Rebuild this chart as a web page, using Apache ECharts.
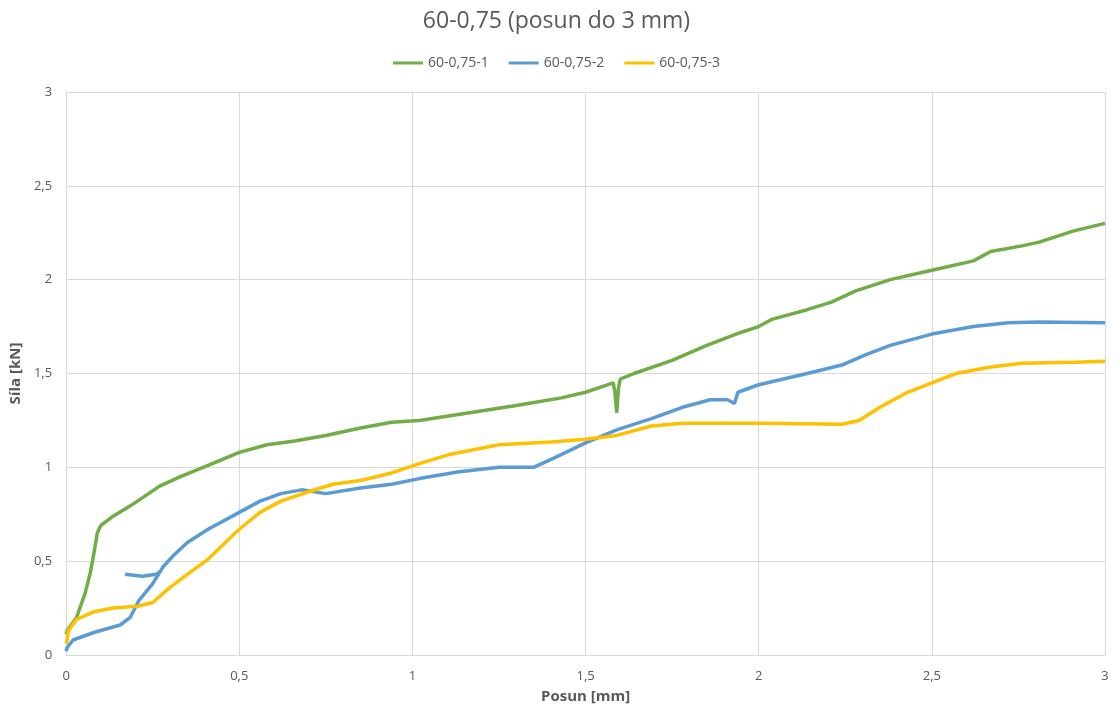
<!DOCTYPE html>
<html>
<head>
<meta charset="utf-8">
<script src="https://cdn.jsdelivr.net/npm/echarts@6/dist/echarts.min.js"></script>
<style>
  html, body { margin: 0; padding: 0; background: #fff; }
  #main { width: 1113px; height: 713px; }
</style>
</head>
<body>
<div id="main"></div>
<script>
// názvy sérií
var seriesNames = ['60-0,75-1', '60-0,75-2', '60-0,75-3'];
var seriesColors = ['#70AD47', '#5B9BD5', '#FFC000'];

// posun [mm], síla [kN]
var s1x = [0, 0.003, 0.03, 0.055, 0.07, 0.08, 0.09, 0.1, 0.136, 0.19, 0.27, 0.33, 0.41, 0.5, 0.58, 0.66, 0.75, 0.85, 0.94, 1.02, 1.16, 1.3, 1.43, 1.5, 1.58, 1.585, 1.59, 1.595, 1.6, 1.64, 1.75, 1.85, 1.95, 2.0, 2.04, 2.14, 2.21, 2.28, 2.38, 2.5, 2.62, 2.67, 2.76, 2.81, 2.91, 3.0];
var s1y = [0.11, 0.13, 0.20, 0.33, 0.44, 0.54, 0.65, 0.69, 0.74, 0.80, 0.90, 0.95, 1.01, 1.08, 1.12, 1.14, 1.17, 1.21, 1.24, 1.25, 1.29, 1.33, 1.37, 1.40, 1.45, 1.40, 1.29, 1.42, 1.47, 1.50, 1.57, 1.65, 1.72, 1.75, 1.79, 1.84, 1.88, 1.94, 2.00, 2.05, 2.10, 2.15, 2.18, 2.20, 2.26, 2.30];

var s2x = [0, 0.003, 0.02, 0.08, 0.156, 0.185, 0.21, 0.25, 0.28, 0.31, 0.35, 0.41, 0.5, 0.56, 0.62, 0.68, 0.75, 0.85, 0.94, 1.02, 1.13, 1.25, 1.35, 1.41, 1.5, 1.59, 1.69, 1.78, 1.86, 1.91, 1.93, 1.94, 2.0, 2.14, 2.24, 2.31, 2.38, 2.5, 2.62, 2.72, 2.81, 3.0];
var s2y = [0.02, 0.04, 0.08, 0.12, 0.16, 0.20, 0.29, 0.38, 0.47, 0.53, 0.60, 0.67, 0.76, 0.82, 0.86, 0.88, 0.86, 0.89, 0.91, 0.94, 0.975, 1.0, 1.0, 1.05, 1.13, 1.20, 1.26, 1.32, 1.36, 1.36, 1.34, 1.40, 1.44, 1.50, 1.545, 1.60, 1.65, 1.71, 1.75, 1.77, 1.775, 1.77];
// odskok u 2. vzorku
var s2hookX = [0.17, 0.22, 0.26, 0.275];
var s2hookY = [0.43, 0.42, 0.43, 0.45];

var s3x = [0, 0.003, 0.006, 0.03, 0.08, 0.136, 0.205, 0.25, 0.3, 0.35, 0.41, 0.46, 0.5, 0.56, 0.62, 0.7, 0.77, 0.85, 0.94, 1.02, 1.11, 1.25, 1.4, 1.5, 1.59, 1.69, 1.78, 2.0, 2.24, 2.29, 2.35, 2.43, 2.5, 2.57, 2.67, 2.76, 2.91, 3.0];
var s3y = [0.06, 0.08, 0.13, 0.19, 0.23, 0.25, 0.26, 0.28, 0.36, 0.43, 0.51, 0.60, 0.67, 0.76, 0.82, 0.87, 0.91, 0.93, 0.97, 1.02, 1.07, 1.12, 1.135, 1.15, 1.17, 1.22, 1.235, 1.235, 1.23, 1.25, 1.32, 1.40, 1.45, 1.50, 1.535, 1.555, 1.56, 1.565];

// tick labels
var ticks = [0, 0.5, 1, 1.5, 2, 2.5, 3];

function zip(xs, ys) {
  return xs.map(function (x, i) { return [x, ys[i]]; });
}
function comma(v) {
  return String(v).replace('.', ',');
}

var s2data = zip(s2x, s2y).concat([['-', '-']], zip(s2hookX, s2hookY));

var myChart = echarts.init(document.getElementById('main'));
var font = '"Open Sans", "Noto Sans", sans-serif';
var option = {
  animation: false,
  color: seriesColors,
  title: {
    text: '60-0,75 (posun do 3 mm)',
    left: 'center',
    top: 5,
    textStyle: { fontFamily: font, fontSize: 23, fontWeight: 'normal', color: '#595959' }
  },
  legend: {
    top: 51,
    left: 'center',
    itemWidth: 30,
    itemHeight: 3,
    itemGap: 20,
    icon: 'rect',
    textStyle: { fontFamily: font, fontSize: 14, color: '#595959' },
    data: seriesNames
  },
  grid: { left: 66, right: 8, top: 92, bottom: 58, containLabel: false },
  xAxis: {
    type: 'value',
    min: ticks[0],
    max: ticks[ticks.length - 1],
    interval: 0.5,
    name: 'Posun [mm]',
    nameLocation: 'middle',
    nameGap: 34,
    nameTextStyle: { fontFamily: font, fontSize: 15, fontWeight: 'bold', color: '#595959' },
    axisLine: { show: true, lineStyle: { color: '#d9d9d9' } },
    axisTick: { show: false },
    axisLabel: { formatter: comma, margin: 15, fontFamily: font, fontSize: 13, color: '#595959' },
    splitLine: { show: true, lineStyle: { color: '#d9d9d9' } }
  },
  yAxis: {
    type: 'value',
    min: ticks[0],
    max: ticks[ticks.length - 1],
    interval: 0.5,
    name: 'Síla [kN]',
    nameLocation: 'middle',
    nameGap: 42,
    nameTextStyle: { fontFamily: font, fontSize: 15, fontWeight: 'bold', color: '#595959' },
    axisLine: { show: true, lineStyle: { color: '#d9d9d9' } },
    axisTick: { show: false },
    axisLabel: { formatter: comma, margin: 14, fontFamily: font, fontSize: 13, color: '#595959' },
    splitLine: { show: true, lineStyle: { color: '#d9d9d9' } }
  },
  series: [
    { name: seriesNames[0], type: 'line', showSymbol: false, lineStyle: { width: 3.5 }, data: zip(s1x, s1y) },
    { name: seriesNames[1], type: 'line', showSymbol: false, lineStyle: { width: 3.5 }, data: s2data },
    { name: seriesNames[2], type: 'line', showSymbol: false, lineStyle: { width: 3.5 }, data: zip(s3x, s3y) }
  ]
};
myChart.setOption(option);
window.addEventListener('resize', function () {
  myChart.resize();
});
</script>
</body>
</html>
